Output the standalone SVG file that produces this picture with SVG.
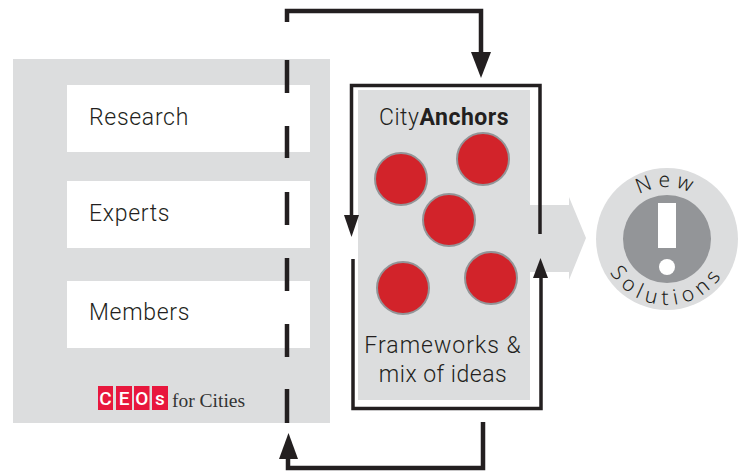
<svg xmlns="http://www.w3.org/2000/svg" width="745" height="472" viewBox="0 0 745 472">
<style>
.bg{fill:#dcddde}
.w{fill:#fff}
.lbl{font-family:Roboto,"Liberation Sans",sans-serif;fill:#231f20;font-weight:300}
.l{font-size:23px;letter-spacing:.7px}
.c{fill:#d2232a;stroke:#939598;stroke-width:2}
.k{fill:none;stroke:#231f20;stroke-width:4.5}
.t{stroke-width:3.5}
.a{fill:#231f20}
.sq{fill:#e8173d}
.sqt{font-family:Roboto,"Liberation Sans",sans-serif;font-size:19px;font-weight:500;fill:#fff;text-anchor:middle}
.arc{font-family:"Noto Sans",sans-serif;font-size:21px;font-weight:300;fill:#231f20;letter-spacing:5.5px}
</style>
<defs>
<path id="arcTop" d="M615 239A52 52 0 0 1 719 239"/>
<path id="arcBot" d="M601 239A66 66 0 0 0 733 239"/>
</defs>
<rect id="panel" class="bg" x="13" y="59" width="317" height="364"/>
<g id="research"><rect class="w" x="67" y="85" width="243" height="67"/><text class="lbl l" x="89" y="125">Research</text></g>
<g id="experts"><rect class="w" x="67" y="181" width="243" height="67"/><text class="lbl l" x="89" y="221">Experts</text></g>
<g id="members"><rect class="w" x="67" y="281" width="243" height="67"/><text class="lbl l" x="89" y="320">Members</text></g>
<g id="ceos">
<rect class="sq" x="98" y="386" width="15" height="24"/><rect class="sq" x="116" y="386" width="16" height="24"/><rect class="sq" x="134" y="386" width="15.5" height="24"/><rect class="sq" x="152" y="386" width="16" height="24"/>
<text class="sqt" x="105.5" y="405">C</text><text class="sqt" x="124" y="405">E</text><text class="sqt" x="141.7" y="405">O</text><text class="sqt" x="160" y="405">s</text>
<text x="172" y="407" font-family="'Liberation Serif',serif" font-size="19.500" fill="#333">for Cities</text>
</g>
<g id="anchors">
<path class="bg" d="M358 90H530V205H569V197L586 238L569 280V272H530V400H358Z"/>
<text class="lbl" x="379" y="125" font-size="23" letter-spacing=".5">City<tspan font-weight="700">Anchors</tspan></text>
<circle class="c" cx="401" cy="179" r="26"/>
<circle class="c" cx="483" cy="159" r="26"/>
<circle class="c" cx="449" cy="220" r="26"/>
<circle class="c" cx="403" cy="288" r="26"/>
<circle class="c" cx="491" cy="278" r="26"/>
<text class="lbl" x="443" y="353" font-size="23" text-anchor="middle" letter-spacing="1">Frameworks &amp;</text>
<text class="lbl" x="443" y="382" font-size="23" text-anchor="middle" letter-spacing=".5">mix of ideas</text>
</g>
<g id="solutions">
<circle class="bg" cx="667" cy="239" r="71"/>
<circle cx="667" cy="239" r="44" fill="#939598"/>
<rect class="w" x="658" y="203" width="18" height="45"/>
<circle class="w" cx="667" cy="267" r="8"/>
<text class="arc"><textPath href="#arcTop" startOffset="50%" text-anchor="middle">New</textPath></text>
<text class="arc"><textPath href="#arcBot" startOffset="50%" text-anchor="middle">Solutions</textPath></text>
</g>
<g id="connectors">
<path class="k" d="M287 22V11H481V54"/>
<path class="a" d="M471 52H491L481 78Z"/>
<path class="k" d="M287 60V93M287 126V158M287 192V225M287 258V291M287 324V357M287 389V423"/>
<path class="k t" d="M540 234V85.500H351.500V217"/>
<path class="a" d="M344 215H359L351.500 237Z"/>
<path class="k t" d="M353 259V408.500H541V276"/>
<path class="a" d="M533 278H548L540.500 258Z"/>
<path class="k" d="M483 422V468H288V457"/>
<path class="a" d="M279 459H298L288.500 433Z"/>
</g>
</svg>
